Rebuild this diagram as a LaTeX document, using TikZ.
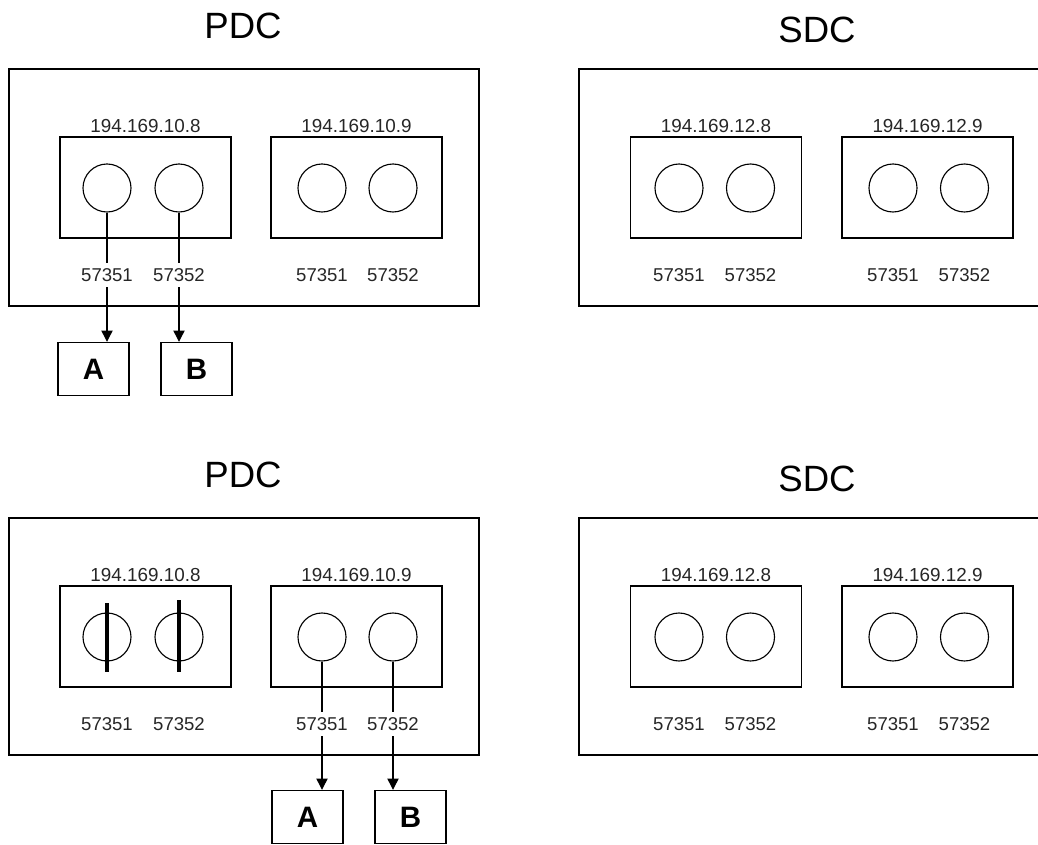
\documentclass[tikz,border=0pt]{standalone}
\usepackage{fontspec}
\setmainfont{Liberation Sans}
\usetikzlibrary{positioning,arrows.meta}

\begin{document}
\begin{tikzpicture}[x=0.025cm,y=-0.025cm,
  >={Triangle[length=8pt,width=8pt]},
  title/.style={font=\fontsize{26}{30}\selectfont},
  ip/.style={font=\fontsize{13.4}{16}\selectfont, text=black!85, inner sep=0pt},
  num/.style={font=\fontsize{13.2}{16}\selectfont, text=black!85, inner sep=4pt},
  site/.style={draw, line width=1.4pt, minimum width=11.75cm, minimum height=5.925cm},
  host/.style={draw, line width=1.2pt, minimum width=4.275cm, minimum height=2.525cm},
  port/.style={draw, circle, line width=0.8pt, minimum size=1.2cm, inner sep=0pt},
  target/.style={draw, line width=1pt, minimum width=1.775cm, minimum height=1.325cm,
    font=\fontsize{21}{24}\selectfont\bfseries},
  link/.style={line width=0.9pt},
  blocked/.style={line width=2.2pt}]

\useasboundingbox (0,0) rectangle (1038,845);

% Two states: top row (t) and bottom row (b)
\foreach \r/\dy in {t/0, b/449}{
  % PDC site
  \node[title] (pdc-\r) at (243,25.5+\dy) {PDC};
  \node[site] (pdcbox-\r) at (244,187.5+\dy) {};
  % SDC site, open towards the right edge
  \node[title] (sdc-\r) at (817,29.5+\dy) {SDC};
  \draw[line width=1.4pt] (1045,69+\dy) -| (579,306+\dy) -- (1045,306+\dy);
  % hosts with two ports each
  \foreach \h/\hx/\addr/\xa/\xb in {1/145.5/194.169.10.8/107/179,
      2/356.5/194.169.10.9/322/393, 3/716/194.169.12.8/679/750.5,
      4/927.5/194.169.12.9/893/964.5}{
    \node[host] (h\h-\r) at (\hx,187.5+\dy) {};
    \node[ip, above=2.5pt of h\h-\r] (ip\h-\r) {\addr};
    \node[port] (h\h-a-\r) at (\xa,188+\dy) {};
    \node[port] (h\h-b-\r) at (\xb,188+\dy) {};
    \node[num] (n\h-a-\r) at (\xa,275+\dy) {57351};
    \node[num] (n\h-b-\r) at (\xb,275+\dy) {57352};
  }
}

% Top: clients on the 194.169.10.8 ports
\node[target] (A-t) at (93.5,369) {A};
\node[target] (B-t) at (196.5,369) {B};
\draw[link] (h1-a-t.south) -- (n1-a-t.north);
\draw[link] (h1-b-t.south) -- (n1-b-t.north);
\draw[link,->] (n1-a-t.south) -- (n1-a-t.south |- A-t.north);
\draw[link,->] (n1-b-t.south) -- (n1-b-t.south |- B-t.north);

% Bottom: 194.169.10.8 ports closed, clients moved to 194.169.10.9
\draw[blocked] ([yshift=6.4pt]h1-a-b.north) -- ([yshift=-7.1pt]h1-a-b.south);
\draw[blocked] ([yshift=8.5pt]h1-b-b.north) -- ([yshift=-7.1pt]h1-b-b.south);
\node[target] (A-b) at (307.5,817) {A};
\node[target] (B-b) at (410.5,817) {B};
\draw[link] (h2-a-b.south) -- (n2-a-b.north);
\draw[link] (h2-b-b.south) -- (n2-b-b.north);
\draw[link,->] (n2-a-b.south) -- (n2-a-b.south |- A-b.north);
\draw[link,->] (n2-b-b.south) -- (n2-b-b.south |- B-b.north);

\end{tikzpicture}
\end{document}
